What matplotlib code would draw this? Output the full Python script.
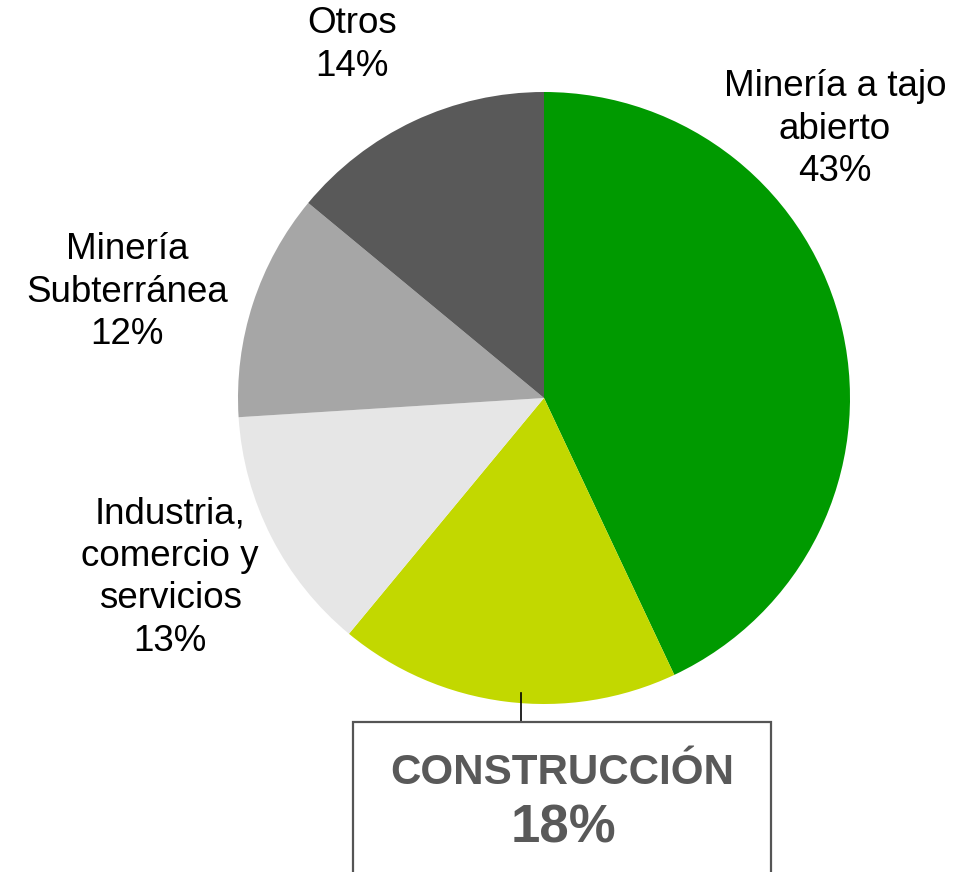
import matplotlib
matplotlib.use('Agg')
import matplotlib.pyplot as plt
from matplotlib.patches import Rectangle

plt.rcParams['font.family'] = ['Liberation Sans', 'DejaVu Sans']

# datos
sectores = ['Minería a tajo\nabierto', 'CONSTRUCCIÓN', 'Industria,\ncomercio y\nservicios',
            'Minería\nSubterránea', 'Otros']
valores = [43, 18, 13, 12, 14]
colores = ['#009A00', '#C2D800', '#E6E6E6', '#A6A6A6', '#595959']

# posiciones de las etiquetas (coordenadas del eje, radio = 1)
pos_etiquetas = [(0.951, 0.879), None, (-1.222, -0.587), (-1.363, 0.346), (-0.627, 1.154)]

W, H = 969, 872
fig = plt.figure(figsize=(W / 100, H / 100), dpi=100)
cx, cy, r = 544, 398, 306
ax = fig.add_axes([(cx - r) / W, (H - cy - r) / H, 2 * r / W, 2 * r / H])
ax.pie(valores, colors=colores, startangle=90, counterclock=False, radius=1,
       wedgeprops=dict(linewidth=0))
ax.set_xlim(-1, 1)
ax.set_ylim(-1, 1)
ax.set_aspect('auto')
ax.axis('off')

for nombre, v, p in zip(sectores, valores, pos_etiquetas):
    if p is None:
        continue
    ax.text(p[0], p[1], f'{nombre}\n{v}%', ha='center', va='center',
            fontsize=26.5, color='black', clip_on=False, linespacing=1.28)

# línea conectora y recuadro de construcción
ax.plot([-0.075, -0.075], [-0.964, -1.059], color='black', lw=1.2, clip_on=False)
fig.patches.append(Rectangle((353 / W, -0.1), (771 - 353) / W, (H - 722) / H + 0.1,
                             transform=fig.transFigure, fill=False,
                             edgecolor='#555555', lw=1.6))
fig.text(562 / W, 1 - 773 / H, sectores[1], ha='center', va='center',
         fontsize=30.3, fontweight='bold', color='#595959')
fig.text(563 / W, 1 - 828 / H, f'{valores[1]}%', ha='center', va='center',
         fontsize=38, fontweight='bold', color='#595959')

fig.savefig('out.png', dpi=100)
